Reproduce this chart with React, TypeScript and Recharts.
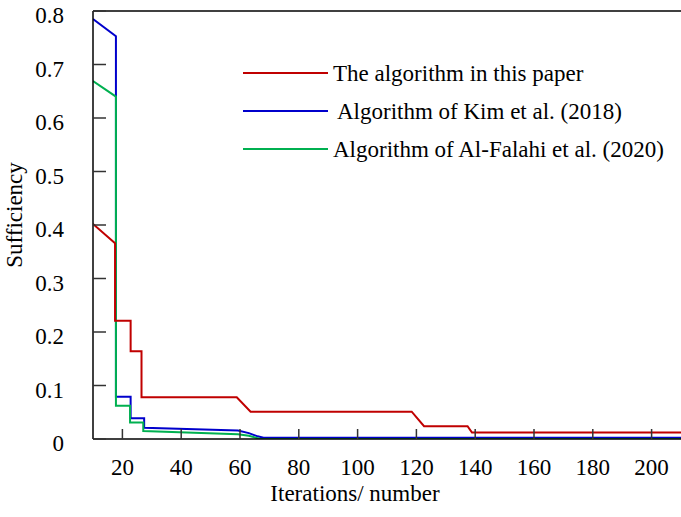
import { LineChart, Line, XAxis, YAxis, ReferenceLine } from 'recharts';

const FONT = 'Liberation Serif, serif';

const xTicks = [20, 40, 60, 80, 100, 120, 140, 160, 180, 200];
const yTicks = [0, 0.1, 0.2, 0.3, 0.4, 0.5, 0.6, 0.7, 0.8];

const seriesNames = [
  'The algorithm in this paper',
  'Algorithm of Kim et al. (2018)',
  'Algorithm of Al-Falahi et al. (2020)',
];
const COLORS = ['#C00000', '#0000CC', '#00B050'];

const redX = [10, 17.5, 17.5, 22.8, 22.8, 26.5, 26.5, 58.9, 63.6, 118.4, 122.6, 137.4, 138.9, 210];
const redY = [0.402, 0.366, 0.221, 0.221, 0.164, 0.164, 0.078, 0.078, 0.051, 0.051, 0.024, 0.024, 0.012, 0.012];

const blueX = [10, 17.8, 17.8, 22.8, 22.8, 27.4, 27.4, 59.3, 63, 66, 68, 210];
const blueY = [0.785, 0.753, 0.079, 0.079, 0.039, 0.039, 0.021, 0.016, 0.011, 0.005, 0.0025, 0.0025];

const greenX = [10, 17.8, 17.8, 22.6, 22.6, 27.1, 27.1, 59.3, 63, 67, 210];
const greenY = [0.669, 0.64, 0.062, 0.062, 0.031, 0.031, 0.015, 0.009, 0.006, 0, 0];

const toPoints = (xs: number[], ys: number[]) => xs.map((x, i) => ({ x, y: ys[i] }));

const redData = toPoints(redX, redY);
const blueData = toPoints(blueX, blueY);
const greenData = toPoints(greenX, greenY);

const textStyle = { fontFamily: FONT, fontSize: 23 };

const XTick = ({ x, y, payload }: any) => (
  <g>
    <line x1={x} x2={x} y1={y} y2={y - 10} stroke="#333" strokeWidth={1.5} />
    <text x={x} y={y + 36} textAnchor="middle" style={textStyle} fill="#000">
      {payload.value}
    </text>
  </g>
);

const YTick = ({ x, y, payload }: any) => (
  <g>
    <line x1={x} x2={x + 13} y1={y} y2={y} stroke="#333" strokeWidth={1.5} />
    <text x={x - 29} y={y + 12} textAnchor="end" style={textStyle} fill="#000">
      {payload.value}
    </text>
  </g>
);

const legendOffsets = [90, 94, 90];
const legendRows = [18, 56, 94];

const LegendBox = () => (
  <svg width={440} height={115} style={{ position: 'absolute', left: 243, top: 55 }}>
    {seriesNames.map((name, i) => (
      <g key={name}>
        <line x1={0} x2={85} y1={legendRows[i]} y2={legendRows[i]} stroke={COLORS[i]} strokeWidth={2} />
        <text x={legendOffsets[i]} y={legendRows[i] + 8} style={textStyle} fill="#000">
          {name}
        </text>
      </g>
    ))}
  </svg>
);

export default function App() {
  return (
    <div style={{ position: 'absolute', left: 0, top: 0, width: 681, height: 517, background: '#fff' }}>
      <LineChart width={681} height={517} margin={{ top: 11, right: 0, bottom: 0, left: 0 }}>
        <XAxis
          type="number"
          dataKey="x"
          domain={[10, 210]}
          ticks={xTicks}
          allowDataOverflow
          height={78}
          tickSize={0}
          tickMargin={0}
          tick={<XTick />}
          axisLine={{ stroke: '#000', strokeWidth: 1.5 }}
          label={({ viewBox }: any) => (
            <text
              x={viewBox.x + viewBox.width / 2 - 32}
              y={viewBox.y + 62}
              textAnchor="middle"
              style={textStyle}
              fill="#000"
            >
              Iterations/ number
            </text>
          )}
        />
        <YAxis
          type="number"
          dataKey="y"
          domain={[0, 0.8]}
          ticks={yTicks}
          allowDataOverflow
          width={93}
          tickSize={0}
          tickMargin={0}
          tick={<YTick />}
          axisLine={{ stroke: '#000', strokeWidth: 1.5 }}
          label={({ viewBox }: any) => {
            const cx = viewBox.x + 22;
            const cy = viewBox.y + viewBox.height / 2 - 10;
            return (
              <text
                x={cx}
                y={cy}
                textAnchor="middle"
                style={textStyle}
                fill="#000"
                transform={`rotate(-90, ${cx}, ${cy})`}
              >
                Sufficiency
              </text>
            );
          }}
        />
        <ReferenceLine y={0.8} stroke="#000" strokeWidth={1.5} />
        <Line data={blueData} dataKey="y" name={seriesNames[1]} stroke={COLORS[1]} strokeWidth={2} dot={false} isAnimationActive={false} />
        <Line data={greenData} dataKey="y" name={seriesNames[2]} stroke={COLORS[2]} strokeWidth={2} dot={false} isAnimationActive={false} />
        <Line data={redData} dataKey="y" name={seriesNames[0]} stroke={COLORS[0]} strokeWidth={2} dot={false} isAnimationActive={false} />
      </LineChart>
      <LegendBox />
    </div>
  );
}
